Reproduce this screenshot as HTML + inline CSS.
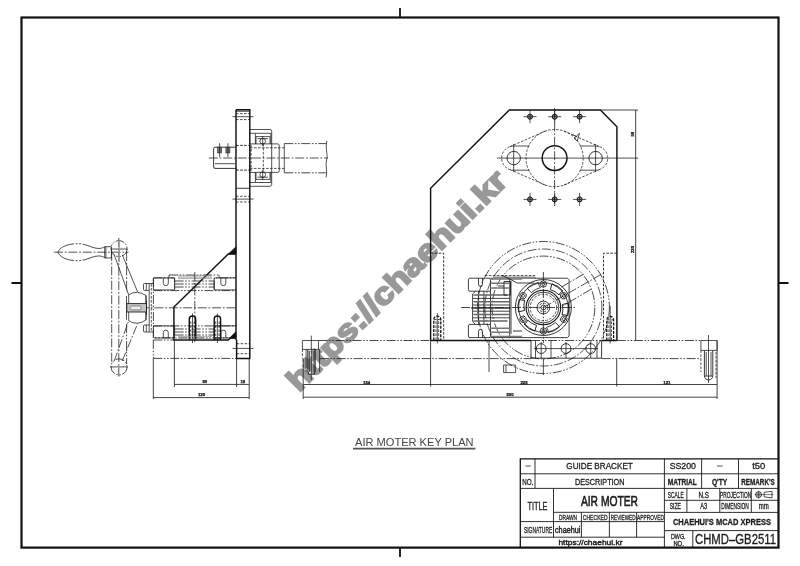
<!DOCTYPE html>
<html>
<head>
<meta charset="utf-8">
<title>AIR MOTER KEY PLAN</title>
<style>
html,body{margin:0;padding:0;background:#fff;}
body{width:800px;height:566px;overflow:hidden;font-family:"Liberation Sans",sans-serif;}
svg{display:block;filter:grayscale(1) blur(0.4px);}
svg text{font-family:"Liberation Sans",sans-serif;}
.k{stroke:#111;stroke-width:1.45;fill:none;}
.m{stroke:#222;stroke-width:0.9;fill:none;}
.t{stroke:#1a1a1a;stroke-width:0.75;fill:none;}
.ph{stroke:#1a1a1a;stroke-width:0.8;fill:none;stroke-dasharray:9 1.6 1.6 1.6 1.6 1.6;}
.cl{stroke:#1a1a1a;stroke-width:0.75;fill:none;stroke-dasharray:9 1.8 1.8 1.8;}
.hd{stroke:#1a1a1a;stroke-width:0.75;fill:none;stroke-dasharray:2.6 1.4;}
#gb .t{stroke:#111;stroke-width:0.8;}
.d{stroke:#222;stroke-width:0.85;fill:none;}
.dt{font-size:4.3px;font-weight:bold;fill:#111;stroke:#111;stroke-width:0.25;text-anchor:middle;}
.tb{stroke:#1a1a1a;stroke-width:0.9;fill:none;}
.tx{fill:#1c1c1c;}
.tx text{stroke:#1c1c1c;stroke-width:0.3;}
</style>
</head>
<body>
<svg width="800" height="566" viewBox="0 0 800 566">
<rect x="0" y="0" width="800" height="566" fill="#fff"/>

<!-- WATERMARK -->
<g id="wm">
<text x="0" y="0" transform="translate(298.9,392.8) rotate(-45)" font-size="30.5" font-weight="bold" fill="#999" stroke="#999" stroke-width="2" stroke-linejoin="miter" textLength="297" lengthAdjust="spacingAndGlyphs">https://chaehui.kr</text>
</g>

<!-- FRAME -->
<g id="frame">
<rect x="21.5" y="17.5" width="757" height="530.1" fill="none" stroke="#111" stroke-width="2.2"/>
<path d="M400 8V17.5M400 547V557M11.5 283H21.5M778.5 283H788.5" stroke="#111" stroke-width="1.8" fill="none"/>
</g>

<!--LEFTVIEW-->
<g id="leftview">
<!-- vertical plate -->
<path class="k" d="M236 109.8H249.8V358.4H236.6V340M236 109.8V340"/>
<path class="m" d="M236 111.2H249.8M236 188.3H249.8"/>
<path class="hd" d="M236 113.6H249.8M236 119.6H249.8M236 196.3H249.8M236 202H249.8M236.6 343.7H249.8M236.6 353.7H249.8"/>
<path class="t" d="M232.5 116.7H253.5M232.5 199.1H253.5M232.5 348.4H253.5"/>
<!-- shaft stub left of plate -->
<path class="m" d="M236.2 147.2H215.1Q213.6 147.2 213.6 148.7V166.9Q213.6 168.4 215.1 168.4H236.2"/>
<path class="t" d="M214.8 163.7H235"/>
<rect x="217.6" y="147.2" width="4" height="5.7" fill="#777" stroke="#222" stroke-width="0.6"/>
<rect x="225.9" y="147.2" width="4" height="5.7" fill="#777" stroke="#222" stroke-width="0.6"/>
<path class="t" d="M219.6 143.2V157M227.9 143.2V157"/>
<path class="hd" d="M236.2 145.4H250M236.2 170.1H250" style="stroke:#111;stroke-width:0.9"/>
<!-- bearing housing -->
<path class="t" style="stroke-width:0.8;stroke:#222" d="M250 129.5H269.9Q271.7 129.5 271.7 131.3V184.5Q271.7 186.3 269.9 186.3H250"/>
<path class="t" d="M250 133.3H255.4V143.9M250 182.5H255.4V172.4M256 143.9V136.6H270V143.9M256 172.4V179.4H270V172.4M270.8 133.3V143.9M270.8 182.5V172.4M255.4 133.3H270.8M255.4 182.5H270.8"/>
<path class="t" style="stroke-width:0.8;stroke:#222" d="M250 143.9H277.7Q279.2 143.9 279.2 145.4V170.9Q279.2 172.4 277.7 172.4H250"/>
<circle class="t" cx="262.7" cy="141.2" r="2.8"/><circle class="t" cx="262.7" cy="174.6" r="2.8"/>
<path class="t" d="M257.5 138.6H268M257.5 177.2H268M262.7 136V146M262.7 170V180"/>
<path class="hd" d="M250 147.8H284.3M250 168.4H284.3M263.3 143.9V172.4"/>
<path class="hd" d="M251 145V171" style="stroke:#111;stroke-width:0.9"/>
<!-- shaft phantom -->
<path class="t" d="M284.3 143.6V172.8"/><path class="ph" d="M284.3 143.6H326.4M284.3 172.8H326.4"/>
<path class="t" d="M326.8 140.8C325 150 328.5 156 326.5 160C325 166 328 172 326 177.5"/>
<path class="cl" d="M208.8 158H328"/>
<!-- gusset -->
<path class="k" d="M236 253.9H228.3L173.9 307V340H228.3L236 332.3"/>
<path d="M236 246.8V253.9H228.3Z" fill="#111" stroke="#111" stroke-width="0.6"/>
<path d="M236 332.3V338.6H229.8Z" fill="#111" stroke="#111" stroke-width="0.5"/>
<!-- threaded holes -->
<path class="k" d="M189.3 340V319.2A3.2 3.2 0 0 1 195.7 319.2V340M214.2 340V319.2A3.2 3.2 0 0 1 220.6 319.2V340"/>
<path class="hd" d="M190.8 340V320M194.2 340V320M215.7 340V320M219.1 340V320"/>
<path class="t" d="M192.5 313.5V343M217.4 313.5V343"/>
<!-- gearbox body phantom -->
<path class="ph" d="M153.4 277.9H174.6V289.9M153.4 277.9V337.9H236M214.2 289.9V277.9H236M153.4 290.6H236M153.4 325.9H236M169 275H219M174.6 281H214.2M174.6 284H214.2M174.6 287H214.2M174.6 329H214.2M174.6 332H214.2M174.6 335H214.2"/>
<path class="t" d="M169 275V278M219 275V278M154.6 277.9H173.4Q174.6 277.9 174.6 279.1V289.9H154.6Q153.4 289.9 153.4 288.7V279.1Q153.4 277.9 154.6 277.9M236 277.9H215.4Q214.2 277.9 214.2 279.1V289.9H236M154.6 337.9H173.4Q174.6 337.9 174.6 336.7V325.9H154.6Q153.4 325.9 153.4 327.1V336.7Q153.4 337.9 154.6 337.9M236 337.9H215.4Q214.2 337.9 214.2 336.7V325.9H236"/>
<path class="t" d="M163.3 277.9V283.2A2.5 2.5 0 0 0 168.3 283.2V277.9M220.8 277.9V283.2A2.5 2.5 0 0 0 225.8 283.2V277.9M163.3 337.9V332.6A2.5 2.5 0 0 1 168.3 332.6V337.9M220.8 337.9V332.6A2.5 2.5 0 0 1 225.8 332.6V337.9"/>
<path d="M178 275.8H212M178 277.2H212M178 278.6H212M178 336.4H212M178 338.8H212" stroke="#888" stroke-width="0.7" fill="none"/>
<!-- flange to wheel -->
<path class="t" d="M153.4 283.5H144.5Q143.5 283.5 143.5 284.5V289.4Q143.5 290.4 144.5 290.4H149.2M153.4 332H144.5Q143.5 332 143.5 331V326Q143.5 325 144.5 325H149.2M149.2 283.5V332M146.3 283.5V290.4M146.3 325V332"/>
<path class="hd" d="M151.3 284V332"/>
<path class="cl" d="M140 307.8H236"/>
<path class="cl" d="M194.8 272V343"/>
<!-- hub -->
<path class="t" d="M126.5 296V319.8M128.7 294.8V320.8M128.7 294.8Q137 289.5 146 295.5V320Q137 326 128.7 320.8M146 295.5V320"/>
<rect x="126.8" y="303.6" width="19.7" height="8.4" fill="#c4c4c4" stroke="#222" stroke-width="0.9"/>
<rect x="130" y="306" width="11.2" height="3.8" rx="1.8" fill="#eee" stroke="#333" stroke-width="0.5"/>
<path class="m" d="M146.5 300.5V315"/>
<!-- handwheel -->
<circle class="ph" cx="119" cy="248.6" r="8"/><circle class="ph" cx="119" cy="366.9" r="8"/>
<path class="cl" d="M111.7 252V364M118.8 238V378M126.6 252V292"/>
<path class="ph" d="M126.6 324V364"/>
<path class="t" d="M114.2 254.7L128.7 294.8M122.2 254.7L137.6 291.9"/>
<path class="cl" d="M114.2 361L128.7 320.8M122.2 361L137.6 323.7"/>
<path class="t" d="M110 366.9H128M111.6 249H128"/>
<!-- handle -->
<path d="M58 252.2C59.5 247 68 243.7 77.6 243.7C87 243.7 92 248.5 98.9 248.5C101.5 248.5 103 247.5 104.7 246.9M58 252.2C59.5 257.4 68 260.7 77.6 260.7C87 260.7 92 255.9 98.9 255.9C101.5 255.9 103 256.9 104.7 257.5" stroke="#222" stroke-width="0.8" fill="none" stroke-dasharray="19 1.5 2 1.5 2 1.5 60 1"/>
<path class="t" d="M104.7 246.7H111.4V258H104.7ZM105.9 246.7V258"/>
<path class="cl" d="M54 252.2H128.5"/>
<path d="M119.1 240V262" stroke="#999" stroke-width="1.4" fill="none"/>
<!-- base rail -->
<path class="ph" d="M153.3 340V358.4M153.3 340H174M153.3 358.4H236.6"/>
</g>
<!--/LEFTVIEW-->
<!--RIGHTVIEW-->
<g id="rightview">
<!-- main plate -->
<path class="k" d="M430.6 340.5V188.2L509.3 110H600.4L616.9 126.8V340.5"/>
<!-- small holes -->
<g id="sh">
<circle cx="530" cy="116.7" r="2.5" fill="#999" stroke="#111" stroke-width="1"/>
<path class="t" d="M523.5 116.7H536.5M530 110.2V123.2"/>
</g>
<use href="#sh" x="24.7"/><use href="#sh" x="49.6"/>
<use href="#sh" y="82.7"/><use href="#sh" x="24.7" y="82.7"/><use href="#sh" x="49.6" y="82.7"/>
<!-- flange bearing -->
<circle class="k" cx="554.6" cy="158.1" r="12.4"/>
<circle class="hd" cx="554.6" cy="158.1" r="28.6"/>
<circle class="m" cx="513.7" cy="158.1" r="6.7"/><circle class="m" cx="595.6" cy="158.1" r="6.7"/>
<path class="hd" d="M513.7 146A12.1 12.1 0 0 0 513.7 170.2M595.6 146A12.1 12.1 0 0 1 595.6 170.2"/>
<path class="hd" d="M510 146.6L546 130.8M510 169.6L546 185.4M599.3 146.6L563.2 130.8M599.3 169.6L563.2 185.4"/>
<path class="t" d="M513.7 146H529.5M513.7 170.2H529.5M595.6 146H579.8M595.6 170.2H579.8"/>
<path class="t" d="M497 158.1H638M513.7 144V172M595.6 144V172"/>
<path class="cl" d="M554.6 108V206"/>
<path class="t" d="M574 138.5L579.5 133.2L577.2 140.8ZM576.5 136.5L572.5 134.6"/>
<!-- gussets -->
<path class="hd" style="stroke:#111;stroke-width:0.85" d="M430.6 253.2H443.7V340.5M616.9 253.2H603.5V340.5"/>
<!-- bolts in plate -->
<path d="M433.8 340.5V319.6A3.5 3.5 0 0 1 440.8 319.6V340.5M606.8 340.5V319.9A3.4 3.4 0 0 1 613.6 319.9V340.5" fill="none" stroke="#111" stroke-width="1.3" stroke-dasharray="3 1.2"/>
<path class="hd" d="M436 340V319.5M438.7 340V319.5M608.9 340V320M611.5 340V320M434 319.6H440.6M607 319.9H613.4"/>
<path class="t" d="M437.3 313V343.5M610.2 306V343.5"/>
<!-- base line -->
<path class="k" d="M430.6 340.5H531M601.6 340.5H616.9"/>
<!-- block under gearbox -->
<path class="m" d="M531 340.5V358.2H601.6V340.5"/>
<path class="ph" d="M531 340.5H601.6"/>
<circle class="m" cx="541.2" cy="348.6" r="4.9"/><circle class="m" cx="566" cy="348.6" r="4.9"/><circle class="m" cx="590.7" cy="348.6" r="4.9"/>
<path class="t" d="M534 348.6H598M541.2 342V358M566 342V358M590.7 342V358M535.5 340.5V358.2M551 340.5V358.2M597 340.5V358.2"/>
<!-- plug under gearbox -->
<path class="t" d="M503.6 365H515.6V372.6H503.6ZM506 365V372.6M489 340.5V372M543.4 358.2V375"/>
<!-- rail -->
<path class="ph" d="M318.5 340.5H430.6M616.9 340.5H700.9M319.6 358.6H531M601.6 358.6H700.9"/>
<path class="t" d="M717.1 340.5V358.6"/>
<!-- left rail bolt -->
<path class="t" d="M302.4 340.5H318.5V349.4H302.4ZM306.1 349.4V372M319.6 349.4V372"/>
<path class="hd" d="M302.4 349.4V358.6"/>
<path class="m" style="stroke-width:1.1" d="M307.9 349.4V371.7L308.9 374.3H314.1L315.1 371.7V349.4"/>
<path class="t" d="M309.4 351V372M314 351V372"/>
<path class="t" d="M311.3 335.6V380"/>
<!-- right rail bolt -->
<path class="t" d="M700.9 340.5H717.1V350.4H700.9Z"/>
<path class="m" d="M704.4 350.4V375.8A4.2 4.2 0 0 0 712.8 375.8V350.4"/>
<path class="t" d="M706.2 352V376.5M711 352V376.5M704.4 376H712.8"/>
<path class="t" d="M708.5 335V383"/>
<path class="hd" d="M700.9 350.4V372M716 352V378"/>
<!-- handwheel circles -->
<circle class="ph" cx="543.4" cy="307.5" r="66"/>
<circle class="cl" cx="543.4" cy="307.5" r="58.5"/>
<circle class="ph" cx="543.4" cy="307.5" r="51.4"/>
<!-- spoke -->
<path class="ph" d="M583.4 274.2L561.5 287.1M590.8 289.4L563.3 305.7"/>
<path class="cl" d="M543.4 307.5L603.5 273"/>
<!-- gearbox -->
<g id="gb">
<path class="t" d="M470 278.2H489Q490.5 278.2 490.5 279.6V291.2H475.5M470 278.2Q468.4 278.2 468.4 279.7V289.7Q468.4 291.2 470 291.2H475.5M470 337.6H489Q490.5 337.6 490.5 336.2V324.4H475.5M470 337.6Q468.4 337.6 468.4 336.1V325.9Q468.4 324.4 470 324.4H475.5"/>
<path class="t" d="M475.5 291.2L472.6 294V321.5L475.5 324.4M478.6 291.2V324.4M483.9 291.2V324.4M490.5 291.2V324.4M509.7 278.2V337.6M490.5 278.2H567.5L569.1 279.8V336L567.5 337.6H490.5M511 281V334"/>
<path d="M474 295H507M474 301.8H509.7M474 314.4H509.7M474 321H507" stroke="#666" stroke-width="1.5" stroke-linecap="round" fill="none"/>
<path d="M472 308H509.7" stroke="#333" stroke-width="1.7" stroke-linecap="round" fill="none"/>
<path d="M490.5 279H522M490.5 283.2H509.7M490.5 288H509.7M490.5 328.3H509.7M490.5 332.3H509.7M490.5 336.4H522M513 331H522" stroke="#777" stroke-width="1.4" fill="none"/>
<path class="t" d="M473 298.4H509.7M473 305H509.7M473 311.2H509.7M473 317.8H509.7"/>
<path class="t" d="M478.5 278.2V284.4A2 2 0 0 0 482.5 284.4V278.2M478.5 337.6V331.4A2 2 0 0 1 482.5 331.4V337.6"/>
<path class="ph" d="M461 307.5H575M543.4 272V343"/>
<path class="hd" d="M484.8 275.5H535V279"/><path d="M493.3 277.6H535" stroke="#888" stroke-width="2.4" fill="none"/><path class="t" d="M502.5 275.4L517.3 283H534"/>
<path class="m" d="M504 281.5H510.5V295H504ZM498 286H504"/>
<circle class="m" cx="543.4" cy="307.5" r="28"/>
<circle class="t" cx="543.4" cy="307.5" r="24.8"/>
<circle class="k" cx="543.4" cy="307.5" r="17.3" style="stroke-width:1.1"/>
<circle class="hd" cx="543.4" cy="307.5" r="13.2"/>
<circle class="t" cx="543.4" cy="307.5" r="15.4"/>
<circle class="t" cx="543.4" cy="307.5" r="6.4"/>
<circle class="hd" cx="543.4" cy="307.5" r="4.4"/>
<circle class="t" cx="543.4" cy="307.5" r="2.4"/>
<g id="lobe"><circle class="t" cx="543.4" cy="284" r="3.2"/><circle class="t" cx="543.4" cy="284" r="1.5"/>
<path class="t" d="M538.6 282.4Q532 283.4 527.2 288.2L531.4 292.6Q535.4 288.8 540.4 287.6Q538.4 285.4 538.6 282.4Z"/></g>
<use href="#lobe" transform="rotate(60 543.4 307.5)"/><use href="#lobe" transform="rotate(120 543.4 307.5)"/><use href="#lobe" transform="rotate(180 543.4 307.5)"/><use href="#lobe" transform="rotate(240 543.4 307.5)"/><use href="#lobe" transform="rotate(300 543.4 307.5)"/>
</g>
</g>
<!--/RIGHTVIEW-->
<!--DIMS-->
<g id="dims">
<!-- left view dims -->
<path class="d" d="M153.3 358.4V399M174.4 340V387M236.6 358.4V387M249.2 358.4V399M174.4 384.4H249.2M153.3 397.6H249.2"/>
<text class="dt" x="204.8" y="383.2">80</text><text class="dt" x="242.8" y="383.2">18</text><text class="dt" x="201.5" y="396.1">130</text>
<!-- right view dims -->
<path class="d" d="M303.2 358.6V399M430.6 340.5V386.5M616.7 358.6V386.5M717.1 358.6V399M303.2 384.5H717.1M303.2 397.2H717.1"/>
<text class="dt" x="366.6" y="383.5">154</text><text class="dt" x="524" y="383.5">225</text><text class="dt" x="666.9" y="383.5">121</text><text class="dt" x="510" y="396.1">500</text>
<path class="d" d="M600.4 110H638M635.7 110V340.5"/>
<text class="dt" transform="translate(634,134.2) rotate(-90)">58</text>
<text class="dt" transform="translate(634,249.5) rotate(-90)">230</text>
</g>
<!--/DIMS-->
<!--CAPTION-->
<g id="caption">
<text x="355" y="446.4" font-size="11" fill="#444" textLength="118.6" lengthAdjust="spacingAndGlyphs">AIR MOTER KEY PLAN</text>
<path d="M353 448.6H475.4" stroke="#555" stroke-width="1.8" fill="none"/>
</g>
<!--/CAPTION-->
<!--TITLEBLOCK-->
<g id="titleblock">
<path d="M520.3 547.2V458.8H778.5" stroke="#111" stroke-width="1.3" fill="none"/>
<path class="tb" d="M520.3 473.8H778.5M520.3 488.4H778.5M553.5 512.3H664.4M520.3 521.6H664.4M520.3 537.2H664.4M664.4 500.3H778.5M664.4 512.4H778.5M664.4 530.6H778.5"/>
<path class="tb" d="M535 458.8V488.4M553.5 488.4V537.2M581.4 512.3V537.2M609.4 512.3V537.2M636.6 512.3V537.2M664.4 458.8V547.2M701.6 458.8V488.4M738.5 458.8V488.4M686.9 488.4V512.4M719.8 488.4V512.4M751.3 488.4V512.4M692.8 530.6V547.2"/>
<g class="tx">
<path d="M525.5 466H530.8M717 466H722.6" stroke="#222" stroke-width="0.8"/>
<text x="566.3" y="469.4" font-size="9.1" textLength="66.5" lengthAdjust="spacingAndGlyphs">GUIDE BRACKET</text>
<text x="669.7" y="469.4" font-size="9.1" textLength="26.3" lengthAdjust="spacingAndGlyphs">SS200</text>
<text x="752.2" y="469.4" font-size="9.1" textLength="13.2" lengthAdjust="spacingAndGlyphs">t50</text>
<text x="522.2" y="484.8" font-size="9.1" textLength="11.2" lengthAdjust="spacingAndGlyphs">NO.</text>
<text x="575" y="484.8" font-size="9.1" textLength="49.4" lengthAdjust="spacingAndGlyphs">DESCRIPTION</text>
<text x="667.8" y="484.8" font-size="9.1" font-weight="bold" textLength="29.1" lengthAdjust="spacingAndGlyphs">MATRIAL</text>
<text x="711.9" y="484.8" font-size="9.1" font-weight="bold" textLength="15.4" lengthAdjust="spacingAndGlyphs">Q'TY</text>
<text x="741.3" y="484.8" font-size="9.1" font-weight="bold" textLength="33.4" lengthAdjust="spacingAndGlyphs">REMARK'S</text>
<text x="527.4" y="510" font-size="10.3" textLength="20.1" lengthAdjust="spacingAndGlyphs">TITLE</text>
<text x="580.9" y="505.9" font-size="13.8" textLength="57.1" lengthAdjust="spacingAndGlyphs" style="stroke-width:0.6">AIR MOTER</text>
<text x="559.1" y="520" font-size="7.7" textLength="18" lengthAdjust="spacingAndGlyphs">DRAWN</text>
<text x="582.8" y="520" font-size="7.7" textLength="24.8" lengthAdjust="spacingAndGlyphs">CHECKED</text>
<text x="610.7" y="520" font-size="7.7" textLength="24.9" lengthAdjust="spacingAndGlyphs">REVIEWED</text>
<text x="637.1" y="520" font-size="7.7" textLength="26.9" lengthAdjust="spacingAndGlyphs">APPROVED</text>
<text x="524" y="532.9" font-size="8.2" textLength="28.2" lengthAdjust="spacingAndGlyphs">SIGNATURE</text>
<text x="555" y="532.9" font-size="9.2" style="stroke-width:0.45" textLength="25.3" lengthAdjust="spacingAndGlyphs">chaehui</text>
<text x="558.4" y="544.5" font-size="7.6" style="stroke-width:0.4" textLength="64.1" lengthAdjust="spacingAndGlyphs">https://chaehui.kr</text>
<text x="667.8" y="497.8" font-size="8.4" textLength="16" lengthAdjust="spacingAndGlyphs">SCALE</text>
<text x="698.4" y="497.8" font-size="8.4" textLength="10.6" lengthAdjust="spacingAndGlyphs">N.S</text>
<text x="720" y="497.8" font-size="8.4" textLength="31.2" lengthAdjust="spacingAndGlyphs">PROJECTION</text>
<text x="669.7" y="509.2" font-size="8.4" textLength="11.3" lengthAdjust="spacingAndGlyphs">SIZE</text>
<text x="700.3" y="509.2" font-size="8.4" textLength="7" lengthAdjust="spacingAndGlyphs">A3</text>
<text x="721.3" y="509.2" font-size="8.4" textLength="27.5" lengthAdjust="spacingAndGlyphs">DIMENSION</text>
<text x="758.8" y="509.2" font-size="8.4" textLength="10" lengthAdjust="spacingAndGlyphs">mm</text>
<text x="672.9" y="525" font-size="9.8" font-weight="bold" textLength="98.1" lengthAdjust="spacingAndGlyphs">CHAEHUI'S MCAD XPRESS</text>
<text x="671" y="539" font-size="7.2" textLength="14.6" lengthAdjust="spacingAndGlyphs">DWG.</text>
<text x="673.4" y="546" font-size="6.8" textLength="10.4" lengthAdjust="spacingAndGlyphs">NO.</text>
<text x="695" y="544.4" font-size="13.8" textLength="81" lengthAdjust="spacingAndGlyphs">CHMD&#8211;GB2511</text>
<!-- projection symbol -->
<circle cx="758.6" cy="494.6" r="2.9" fill="none" stroke="#222" stroke-width="1"/>
<circle cx="758.6" cy="494.6" r="1.3" fill="none" stroke="#222" stroke-width="0.6"/>
<path d="M754.6 494.6H773.5M758.6 490.6V498.6" stroke="#222" stroke-width="0.6" fill="none"/>
<path d="M764.2 492.3L772 491.3V497.9L764.2 496.9Z" fill="none" stroke="#222" stroke-width="0.8"/>
</g>
</g>
<!--/TITLEBLOCK-->
</svg>
</body>
</html>
